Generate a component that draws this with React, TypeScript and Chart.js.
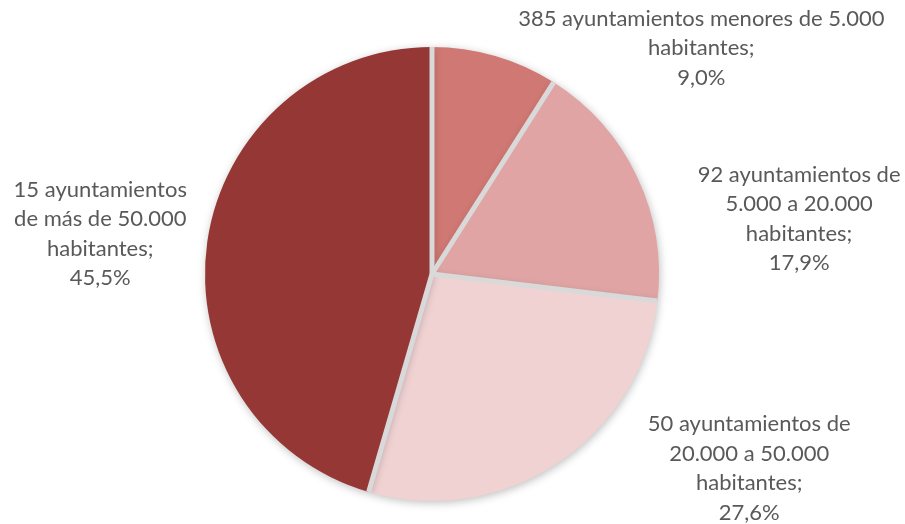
import React, { useEffect, useRef } from "react";
import { Chart, registerables } from "chart.js";

Chart.register(...registerables);

const categories = [
  ["385 ayuntamientos menores de 5.000", "habitantes;"],
  ["92 ayuntamientos de", "5.000 a 20.000", "habitantes;"],
  ["50 ayuntamientos de", "20.000 a 50.000", "habitantes;"],
  ["15 ayuntamientos", "de más de 50.000", "habitantes;"],
];
const percentValues = [9.0, 17.9, 27.6, 45.5];
const percentLabels = ["9,0%", "17,9%", "27,6%", "45,5%"];
const sliceColors = ["#D07873", "#E0A4A4", "#F0D2D3", "#953734"];

// label offsets from each slice's outer mid-point (layout only)
const labelOffsets = [
  [206, -8],
  [162, 42],
  [192, 5],
  [-107, -8],
];

const FONT = "22px Lato, 'Open Sans', sans-serif";
const LINE_H = 29.5;
const SEP_COLOR = "#D9D9D9";
const SEP_WIDTH = 5;

const shadowPlugin = {
  id: "shadowPlugin",
  beforeDatasetDraw(chart: any) {
    const ctx = chart.ctx;
    ctx.save();
    ctx.shadowColor = "rgba(0,0,0,0.25)";
    ctx.shadowBlur = 8;
    ctx.shadowOffsetX = 1;
    ctx.shadowOffsetY = 2;
  },
  afterDatasetDraw(chart: any) {
    const ctx = chart.ctx;
    ctx.restore();
    // separators between slices (no outer border)
    const meta = chart.getDatasetMeta(0);
    ctx.save();
    ctx.strokeStyle = SEP_COLOR;
    ctx.lineWidth = SEP_WIDTH;
    ctx.lineCap = "butt";
    meta.data.forEach((arc: any) => {
      const p = arc.getProps(["x", "y", "startAngle", "outerRadius"], true);
      ctx.beginPath();
      ctx.moveTo(p.x, p.y);
      ctx.lineTo(
        p.x + Math.cos(p.startAngle) * p.outerRadius,
        p.y + Math.sin(p.startAngle) * p.outerRadius
      );
      ctx.stroke();
    });
    ctx.restore();
  },
};

const labelPlugin = {
  id: "labelPlugin",
  afterDraw(chart: any) {
    const ctx = chart.ctx;
    const meta = chart.getDatasetMeta(0);
    ctx.save();
    ctx.font = FONT;
    ctx.fillStyle = "#595959";
    ctx.textAlign = "center";
    ctx.textBaseline = "middle";
    meta.data.forEach((arc: any, i: number) => {
      const p = arc.getProps(["x", "y", "startAngle", "endAngle", "outerRadius"], true);
      const mid = (p.startAngle + p.endAngle) / 2;
      const ox = p.x + Math.cos(mid) * p.outerRadius;
      const oy = p.y + Math.sin(mid) * p.outerRadius;
      const cx = ox + labelOffsets[i][0];
      const cy = oy + labelOffsets[i][1];
      const lines = [...categories[i], percentLabels[i]];
      const top = cy - ((lines.length - 1) * LINE_H) / 2;
      lines.forEach((l, k) => ctx.fillText(l, cx, top + k * LINE_H));
    });
    ctx.restore();
  },
};

export default function App() {
  const ref = useRef<HTMLCanvasElement>(null);
  useEffect(() => {
    document.body.style.margin = "0";
    const chart = new Chart(ref.current!, {
      type: "pie",
      data: {
        labels: categories.map((c) => c.join(" ")),
        datasets: [
          {
            data: percentValues,
            backgroundColor: sliceColors,
            borderWidth: 0,
          },
        ],
      },
      options: {
        responsive: false,
        animation: false,
        layout: { padding: { top: 47, bottom: 23, left: 100, right: 141 } },
        plugins: { legend: { display: false }, tooltip: { enabled: false } },
      },
      plugins: [shadowPlugin, labelPlugin],
    });
    return () => chart.destroy();
  }, []);
  return (
    <div style={{ width: 905, height: 524, background: "#fff" }}>
      <canvas ref={ref} width={905} height={524} style={{ display: "block" }} />
    </div>
  );
}
